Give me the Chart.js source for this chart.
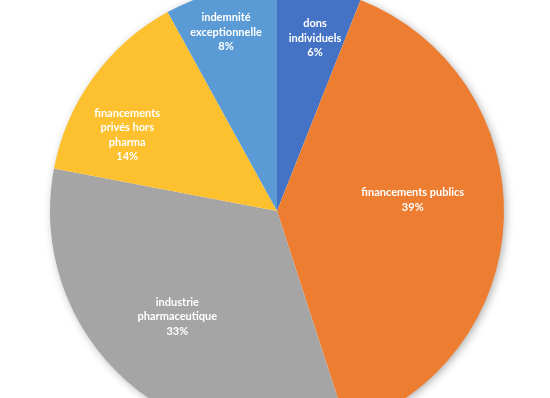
<!DOCTYPE html>
<html>
<head>
<meta charset="utf-8">
<script src="https://cdn.jsdelivr.net/npm/chart.js@4"></script>
<style>
  html, body { margin: 0; padding: 0; background: #fff; overflow: hidden; width: 550px; height: 398px; }
  #wrap { position: absolute; left: 0; top: -16px; width: 550px; height: 454px; }
</style>
</head>
<body>
<div id="wrap"><canvas id="pieChart"></canvas></div>
<script>
// data
const categories = ['dons individuels', 'financements publics', 'industrie pharmaceutique', 'financements privés hors pharma', 'indemnité exceptionnelle'];
const shares = [6, 39, 33, 14, 8];
const labelLines = [
    ['dons', 'individuels'],
    ['financements publics'],
    ['industrie', 'pharmaceutique'],
    ['financements', 'privés hors', 'pharma'],
    ['indemnité', 'exceptionnelle']
];
const colors = ['#4472C4', '#ED7D31', '#A5A5A5', '#FDC02F', '#5B9BD5'];

// label placement: fraction of radius, and a small turn (degrees) off the slice middle
const labelRadius = [0.78, 0.60, 0.64, 0.74, 0.82];
const labelTurn = [1.6, -6.4, 1.9, -9.1, -1.5];

// soft shadow under the whole pie
const pieShadow = {
    id: 'pieShadow',
    beforeDatasetsDraw(chart) {
        const arc = chart.getDatasetMeta(0).data[0];
        if (!arc) return;
        const ctx = chart.ctx;
        ctx.save();
        ctx.shadowColor = 'rgba(0,0,0,0.35)';
        ctx.shadowBlur = 10;
        ctx.shadowOffsetX = 2;
        ctx.shadowOffsetY = 2;
        ctx.fillStyle = '#fff';
        ctx.beginPath();
        ctx.arc(arc.x, arc.y, arc.outerRadius - 1, 0, Math.PI * 2);
        ctx.fill();
        ctx.restore();
    }
};

const sliceLabels = {
    id: 'sliceLabels',
    afterDatasetsDraw(chart) {
        const ctx = chart.ctx;
        const meta = chart.getDatasetMeta(0);
        ctx.save();
        ctx.fillStyle = '#fff';
        ctx.font = 'bold 11px Lato, "Open Sans", sans-serif';
        ctx.textAlign = 'center';
        ctx.textBaseline = 'middle';
        const lineH = 14.5;
        meta.data.forEach((arc, i) => {
            const mid = (arc.startAngle + arc.endAngle) / 2 + labelTurn[i] * Math.PI / 180;
            const r = arc.outerRadius * labelRadius[i];
            const x = arc.x + Math.cos(mid) * r;
            const y = arc.y + Math.sin(mid) * r;
            const lines = labelLines[i].concat([shares[i] + '%']);
            const top = y - (lines.length - 1) * lineH / 2;
            lines.forEach((t, k) => ctx.fillText(t, x, top + k * lineH));
        });
        ctx.restore();
    }
};

new Chart(document.getElementById('pieChart'), {
    type: 'pie',
    data: {
        labels: categories,
        datasets: [{
            data: shares,
            backgroundColor: colors,
            borderWidth: 0
        }]
    },
    options: {
        responsive: true,
        maintainAspectRatio: false,
        animation: false,
        layout: { padding: { left: 4, right: 0, top: 0, bottom: 0 } },
        plugins: {
            legend: { display: false },
            tooltip: { enabled: false }
        }
    },
    plugins: [pieShadow, sliceLabels]
});
</script>
</body>
</html>
